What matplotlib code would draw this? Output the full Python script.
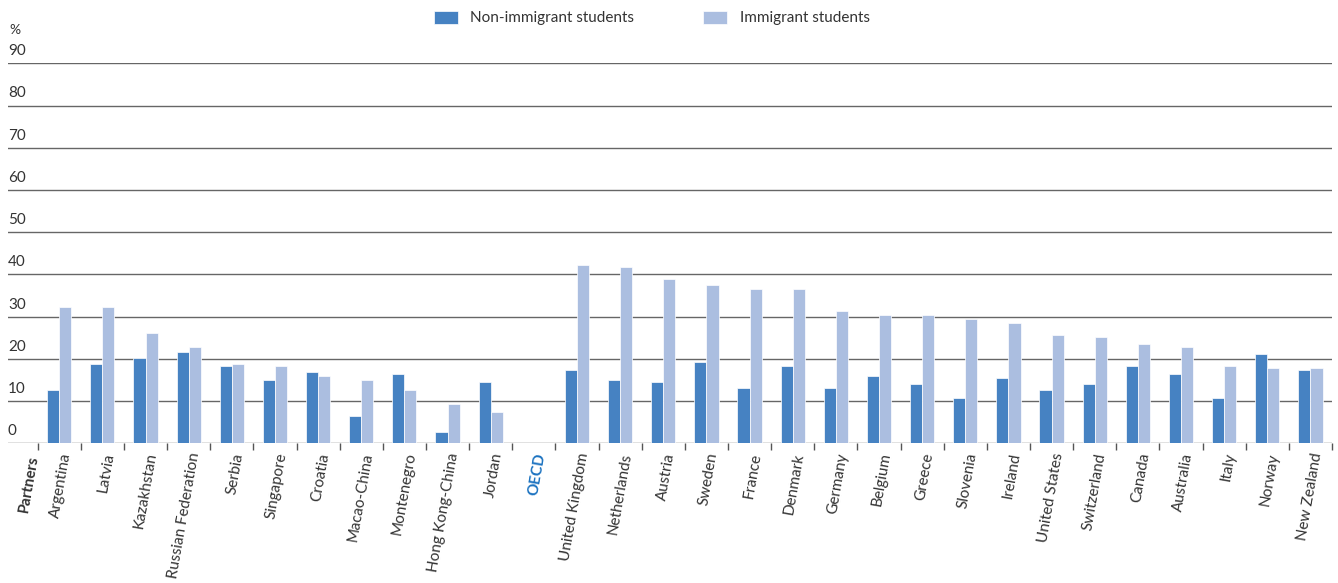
import matplotlib
matplotlib.use("Agg")
import matplotlib.pyplot as plt
import matplotlib.transforms as mtransforms
import numpy as np

plt.rcParams["font.family"] = ["Lato", "DejaVu Sans"]

countries = ["Argentina", "Latvia", "Kazakhstan", "Russian Federation", "Serbia",
             "Singapore", "Croatia", "Macao-China", "Montenegro", "Hong Kong-China",
             "Jordan", "OECD", "United Kingdom", "Netherlands", "Austria", "Sweden",
             "France", "Denmark", "Germany", "Belgium", "Greece", "Slovenia", "Ireland",
             "United States", "Switzerland", "Canada", "Australia", "Italy", "Norway",
             "New Zealand"]
non_immigrant = [12.6, 18.9, 20.3, 21.7, 18.4, 15.1, 17.0, 6.5, 16.5, 2.6,
                 14.6, np.nan, 17.4, 15.1, 14.6, 19.3, 13.2, 18.4, 13.2, 16.0,
                 14.1, 10.8, 15.5, 12.7, 14.1, 18.4, 16.5, 10.8, 21.2, 17.4]
immigrant = [32.2, 32.2, 26.1, 22.7, 18.9, 18.4, 16.0, 15.1, 12.6, 9.3,
             7.4, np.nan, 42.3, 41.8, 38.9, 37.5, 36.6, 36.6, 31.3, 30.3,
             30.3, 29.4, 28.4, 25.6, 25.1, 23.6, 22.7, 18.4, 17.9, 17.9]
yticks = [0, 10, 20, 30, 40, 50, 60, 70, 80, 90]

DARK = "#4682c2"
LIGHT = "#abbee0"
TXT = "#333333"

W, H = 1338, 583
fig = plt.figure(figsize=(W / 100, H / 100), dpi=100)
left_px, right_px = 8, 1332
bot_px, top_px = 443.3, 63.3
ax = fig.add_axes([left_px / W, (H - bot_px) / H,
                   (right_px - left_px) / W, (bot_px - top_px) / H])

n = len(countries)
x = np.arange(n)
cat_px = (right_px - 37.7) / n
lead = (37.7 - left_px) / cat_px
ax.set_xlim(-0.5 - lead, n - 0.5)
ax.set_ylim(0, 90)

bw = 0.28
ax.bar(x - bw / 2, non_immigrant, bw, color=DARK, edgecolor="white",
       linewidth=0.5, zorder=3, label="Non-immigrant students")
ax.bar(x + bw / 2, immigrant, bw, color=LIGHT, edgecolor="white",
       linewidth=0.5, zorder=3, label="Immigrant students")

# gridlines and y labels sitting above the lines
for v in yticks:
    ax.axhline(v, color="#666666", linewidth=1.0, zorder=1)
trans = mtransforms.blended_transform_factory(ax.transAxes, ax.transData)
for v in yticks:
    ax.text(0.0, v + 1.2, str(v), transform=trans, ha="left", va="bottom",
            fontsize=11, color=TXT)
ax.annotate("%", xy=(0.0, 1.0), xycoords="axes fraction", xytext=(1, 20),
            textcoords="offset points", ha="left", va="bottom",
            fontsize=10, color=TXT)

for s in ax.spines.values():
    s.set_visible(False)
ax.set_yticks([])

# category boundary ticks
ax.set_xticks(np.arange(-0.5, n, 1.0), minor=True)
ax.tick_params(axis="x", which="minor", length=5, width=1, color="#555555",
               direction="out")
ax.set_xticks(x)
ax.set_xticklabels(countries, rotation=80, ha="right", va="top",
                   rotation_mode="anchor", fontsize=11, color=TXT)
ax.tick_params(axis="x", which="major", length=0, pad=6)
for lab in ax.get_xticklabels():
    if lab.get_text() == "OECD":
        lab.set_color("#1b72c0")
        lab.set_fontweight("bold")

ax.text(-0.5 - lead * 0.35, -2.6, "Partners", rotation=80, ha="right", va="top",
        rotation_mode="anchor", fontsize=11, fontweight="bold", color=TXT)

fig.legend(loc="upper center", bbox_to_anchor=(0.487, 1.005), ncol=2,
           frameon=False, fontsize=11, handlelength=1.6, handleheight=0.9,
           columnspacing=4.5, labelcolor=TXT)

fig.savefig("out.png", dpi=100)
